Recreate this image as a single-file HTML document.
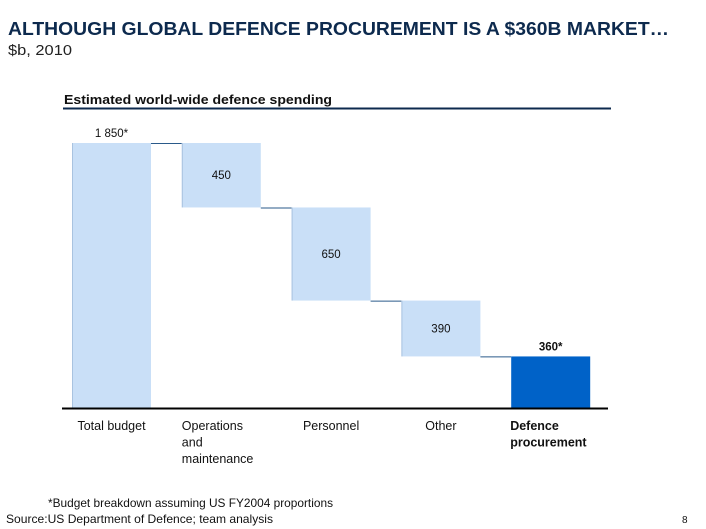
<!DOCTYPE html>
<html><head><meta charset="utf-8"><style>
body{margin:0;background:#fff;width:706px;height:529px;overflow:hidden;font-family:"Liberation Sans",Arial,sans-serif}
svg{display:block}
</style></head><body>
<svg width="706" height="529">
<text x="8" y="35" font-size="18" font-weight="bold" fill="#0d2a4e" textLength="661" lengthAdjust="spacingAndGlyphs">ALTHOUGH GLOBAL DEFENCE PROCUREMENT IS A $360B MARKET…</text>
<text x="8" y="55" font-size="14.5" fill="#222" textLength="64" lengthAdjust="spacingAndGlyphs">$b, 2010</text>
<text x="64" y="104" font-size="13" font-weight="bold" fill="#111" textLength="268" lengthAdjust="spacingAndGlyphs">Estimated world-wide defence spending</text>
<line x1="63" y1="108.5" x2="611" y2="108.5" stroke="#0d2a4e" stroke-width="2"/>
<g id="bars"></g>
<line x1="62" y1="408.5" x2="608" y2="408.5" stroke="#000" stroke-width="2"/>
<text x="48" y="507" font-size="12" fill="#111" textLength="285" lengthAdjust="spacingAndGlyphs">*Budget breakdown assuming US FY2004 proportions</text>
<text x="6" y="523" font-size="12" fill="#111" textLength="267" lengthAdjust="spacingAndGlyphs">Source:US Department of Defence; team analysis</text>
<text x="682" y="523" font-size="10" fill="#111">8</text>
</svg>
<script>
const categories=["Total budget","Operations and maintenance","Personnel","Other","Defence procurement"];
const values=[1850,450,650,390,360];
const valueLabels=["1 850*","450","650","390","360*"];
const kinds=["total","step","step","step","result"];
const labelLines=[["Total budget"],["Operations","and","maintenance"],["Personnel"],["Other"],["Defence","procurement"]];
const NS="http://www.w3.org/2000/svg";
const g=document.getElementById('bars');
const base=408, top0=143, scale=(base-top0)/values[0];
const y=v=>base-v*scale;
const x0=72, step=109.8, bw=79;
function mk(t,a){const e=document.createElementNS(NS,t);for(const k in a)e.setAttribute(k,a[k]);g.appendChild(e);return e;}
let level=values[0];
values.forEach((v,i)=>{
  const x=x0+i*step;
  let yt,yb;
  if(kinds[i]==="total"){yt=y(v);yb=base;}
  else if(kinds[i]==="step"){yt=y(level);yb=y(level-v);level-=v;}
  else {yt=y(v);yb=base;}
  const r=mk('rect',{x:x,y:yt,width:bw,height:yb-yt,fill:kinds[i]==="result"?"#0062c8":"#c9dff7"});
  
  
  if(kinds[i]!=="result"){const l=mk('line',{x1:x+0.5,y1:yt,x2:x+0.5,y2:yb,stroke:"#a9c3e0"});
    
    }
  if(i<values.length-1){
    const cy=kinds[i]==="total"?yt:yb;
    const c=mk('line',{x1:x+bw,y1:cy+0.5,x2:x+step,y2:cy+0.5,stroke:"#2a5a8a","stroke-width":1});
    
    
  }
  const outside=kinds[i]!=="step";
  const t=mk('text',{x:x+bw/2,y:outside?yt-6:(yt+yb)/2+4,"text-anchor":"middle","font-size":11.5,fill:"#111","font-weight":kinds[i]==="result"?"bold":"normal"});
  t.textContent=valueLabels[i];
  
  
  const bold=kinds[i]==="result";
  const lt=mk('text',{x:bold?x-1:(i===1?x:x+bw/2),y:430,"text-anchor":(bold||i===1)?"start":"middle","font-size":12.5,fill:"#111","font-weight":bold?"bold":"normal"});
  labelLines[i].forEach((s,j)=>{const ts=document.createElementNS(NS,'tspan');ts.setAttribute('x',lt.getAttribute('x'));ts.setAttribute('dy',j?16.5:0);ts.textContent=s;lt.appendChild(ts);});
  
  
});
</script>
</body></html>
